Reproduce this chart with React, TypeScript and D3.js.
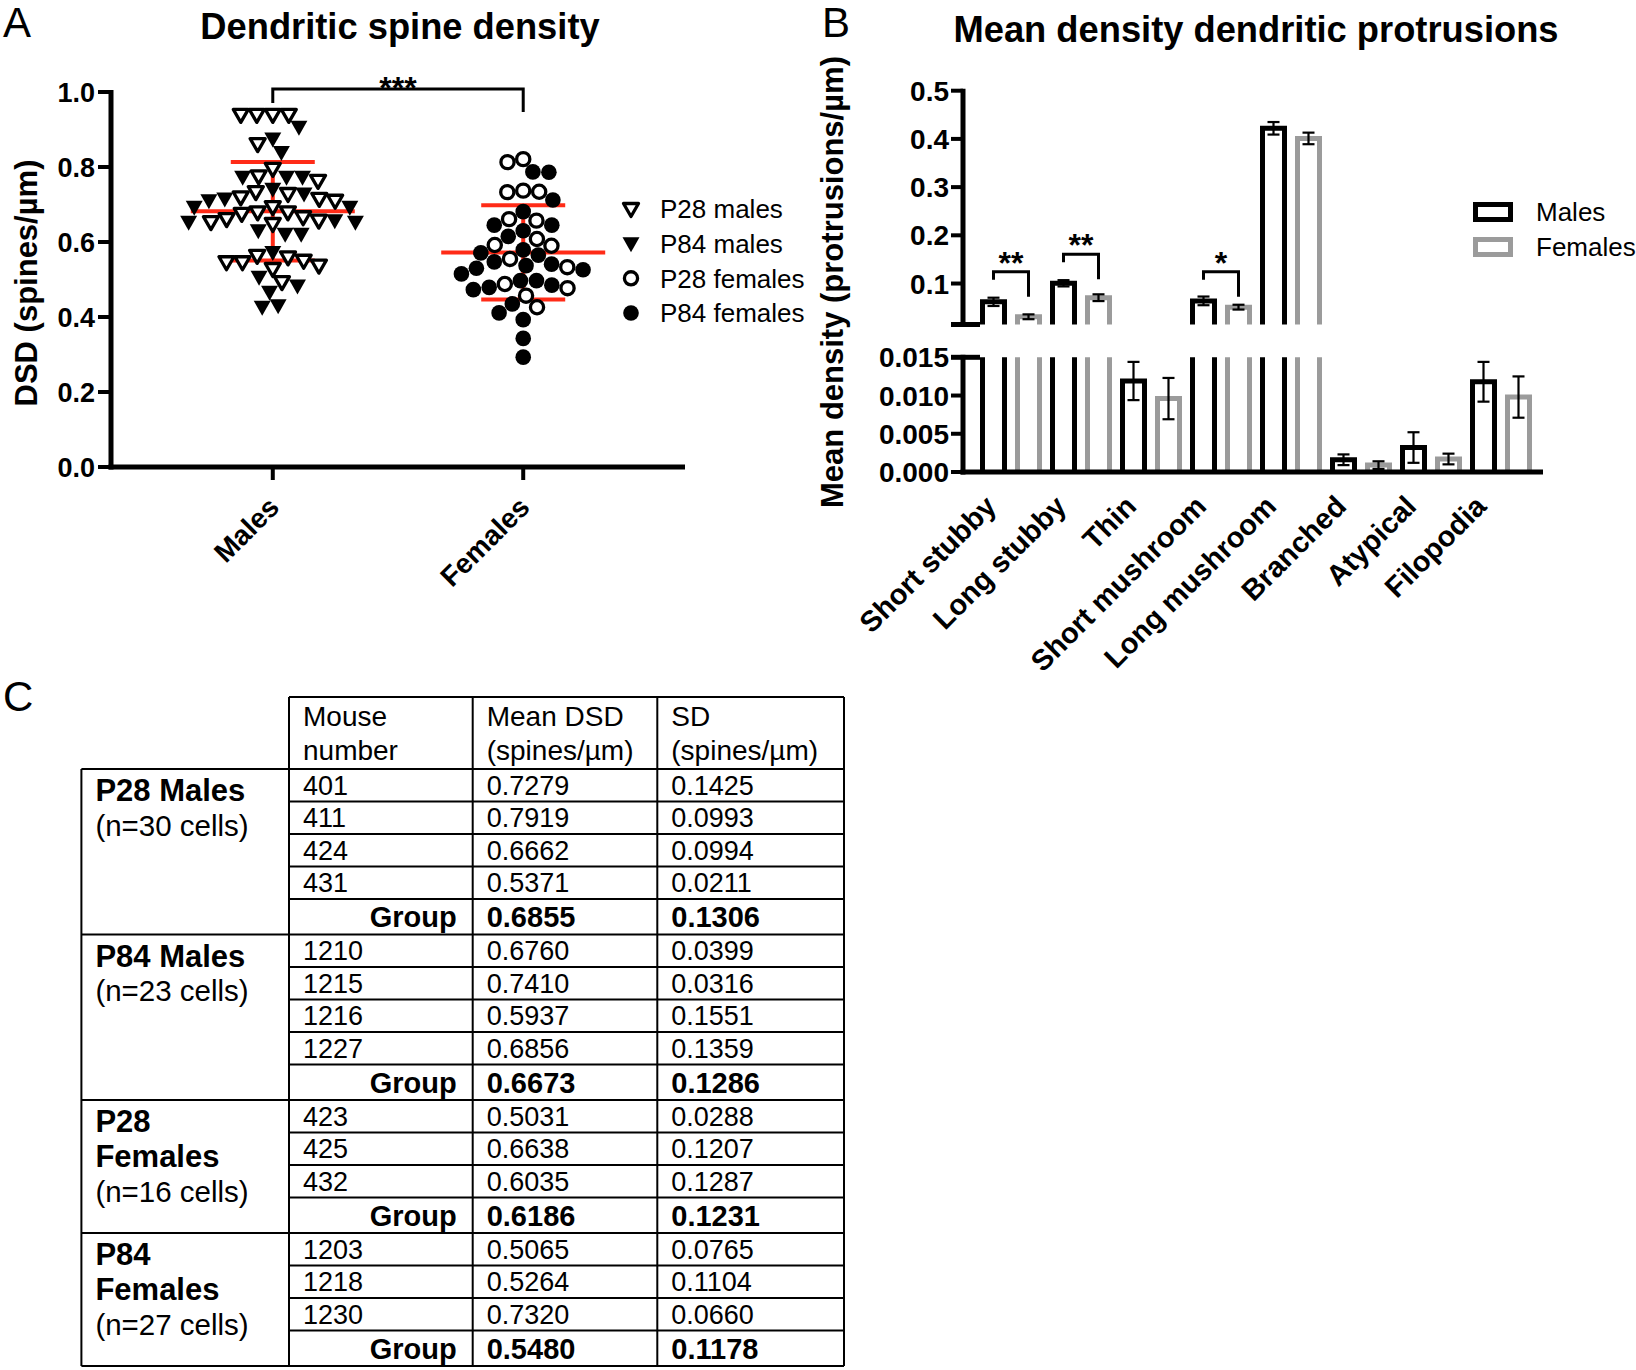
import React from 'react';
import * as d3 from 'd3';

// ---- Panel A: dendritic spine density per cell (spines/µm) ----
const groupsA = ['Males', 'Females'];
const p28Males = [0.939, 0.939, 0.939, 0.939, 0.861, 0.795, 0.763, 0.775, 0.733, 0.71, 0.715, 0.719, 0.728, 0.693, 0.679, 0.666, 0.648, 0.653, 0.657, 0.661, 0.675, 0.679, 0.546, 0.537, 0.559, 0.563, 0.528, 0.546, 0.55, 0.493];
const p84Males = [0.906, 0.875, 0.839, 0.773, 0.773, 0.773, 0.728, 0.715, 0.71, 0.741, 0.693, 0.693, 0.657, 0.653, 0.653, 0.63, 0.621, 0.621, 0.572, 0.506, 0.483, 0.466, 0.426, 0.43];
const p28Females = [0.821, 0.813, 0.737, 0.733, 0.734, 0.661, 0.657, 0.608, 0.59, 0.592, 0.555, 0.533, 0.477, 0.488, 0.457, 0.426];
const p84Females = [0.787, 0.786, 0.712, 0.681, 0.645, 0.63, 0.645, 0.615, 0.565, 0.579, 0.571, 0.547, 0.537, 0.53, 0.526, 0.541, 0.515, 0.497, 0.485, 0.479, 0.473, 0.497, 0.435, 0.411, 0.393, 0.343, 0.293];
const legendA = ['P28 males', 'P84 males', 'P28 females', 'P84 females'];
const ticksA = [0, 0.2, 0.4, 0.6, 0.8, 1.0];

// ---- Panel B: mean density of protrusion types (protrusions/µm), mean ± SEM ----
const categoriesB = ['Short stubby', 'Long stubby', 'Thin', 'Short mushroom', 'Long mushroom', 'Branched', 'Atypical', 'Filopodia'];
const seriesB = ['Males', 'Females'];
const malesMean = [0.062, 0.1005, 0.0119, 0.064, 0.422, 0.0016, 0.0032, 0.0118];
const malesErr = [0.0086, 0.0065, 0.0025, 0.009, 0.013, 0.0007, 0.002, 0.0026];
const femalesMean = [0.031, 0.0706, 0.0096, 0.051, 0.401, 0.0009, 0.0017, 0.0098];
const femalesErr = [0.005, 0.007, 0.0027, 0.005, 0.012, 0.0005, 0.0007, 0.0027];
const upperTicks = [0.1, 0.2, 0.3, 0.4, 0.5];
const lowerTicks = [0, 0.005, 0.01, 0.015];
const breakValue = 0.015;
const sigCats = ['Short stubby', 'Long stubby', 'Short mushroom'];
const sigLevel = [0.1245, 0.1606, 0.1245];
const sigText = ['**', '**', '*'];

// ---- Panel C: table ----
const tableHeader = [['Mouse', 'number'], ['Mean DSD', '(spines/µm)'], ['SD', '(spines/µm)']];
const groupTitles = [['P28 Males'], ['P84 Males'], ['P28', 'Females'], ['P84', 'Females']];
const groupCells = ['(n=30 cells)', '(n=23 cells)', '(n=16 cells)', '(n=27 cells)'];
const mouseNumbers = [['401', '411', '424', '431'], ['1210', '1215', '1216', '1227'], ['423', '425', '432'], ['1203', '1218', '1230']];
const mouseMeans = [['0.7279', '0.7919', '0.6662', '0.5371'], ['0.6760', '0.7410', '0.5937', '0.6856'], ['0.5031', '0.6638', '0.6035'], ['0.5065', '0.5264', '0.7320']];
const mouseSDs = [['0.1425', '0.0993', '0.0994', '0.0211'], ['0.0399', '0.0316', '0.1551', '0.1359'], ['0.0288', '0.1207', '0.1287'], ['0.0765', '0.1104', '0.0660']];
const groupMeans = ['0.6855', '0.6673', '0.6186', '0.5480'];
const groupSDs = ['0.1306', '0.1286', '0.1231', '0.1178'];

const FONT = '"Liberation Sans", Arial, Helvetica, sans-serif';
const RED = '#ff2b17';
const GREY = '#9b9b9b';
const AXIS_W = 5;

type Pt = { v: number; kind: string; x: number; y: number };

// simple beeswarm: place each point as close to the centre as possible without overlap
function swarm(items: { v: number; kind: string }[], y: (v: number) => number, cx: number, d: number): Pt[] {
  const pts = items.map(p => ({ ...p, x: cx, y: y(p.v) })).sort((a, b) => a.y - b.y);
  const placed: Pt[] = [];
  pts.forEach(p => {
    const bad: [number, number][] = [];
    placed.forEach(q => {
      const dy = Math.abs(q.y - p.y);
      if (dy < d) {
        const dx = Math.sqrt(d * d - dy * dy);
        bad.push([q.x - dx, q.x + dx]);
      }
    });
    const cands = [cx, ...bad.flat()].sort((a, b) => Math.abs(a - cx) - Math.abs(b - cx));
    const ok = cands.find(c => bad.every(([a, b]) => c <= a + 1e-6 || c >= b - 1e-6)) ?? cx;
    p.x = ok;
    placed.push(p);
  });
  return placed;
}

const Marker: React.FC<{ kind: string; x: number; y: number }> = ({ kind, x, y }) => {
  if (kind === 'p28m') return <path d="M-7.5,-5.5L7.5,-5.5L0,7.5Z" transform={`translate(${x},${y})`} fill="white" stroke="black" strokeWidth={3.3} strokeLinejoin="round" />;
  if (kind === 'p84m') return <path d="M-8.5,-6.5L8.5,-6.5L0,8.5Z" transform={`translate(${x},${y})`} fill="black" />;
  if (kind === 'p28f') return <circle cx={x} cy={y} r={6.6} fill="white" stroke="black" strokeWidth={3.3} />;
  return <circle cx={x} cy={y} r={7.8} fill="black" />;
};

const PanelA: React.FC = () => {
  const y = d3.scaleLinear().domain([0, 1]).range([467, 92]);
  const x = d3.scalePoint().domain(groupsA).range([111, 685]).padding(0.646);
  const x0 = 111;
  const groups = [
    [...p28Males.map(v => ({ v, kind: 'p28m' })), ...p84Males.map(v => ({ v, kind: 'p84m' }))],
    [...p28Females.map(v => ({ v, kind: 'p28f' })), ...p84Females.map(v => ({ v, kind: 'p84f' }))],
  ];
  const kinds = ['p28m', 'p84m', 'p28f', 'p84f'];
  const legendY = d3.scalePoint().domain(legendA).range([209, 313]);
  return (
    <g>
      <text x={3} y={37} fontSize={42} fontFamily={FONT}>A</text>
      <text x={400} y={39} fontSize={36.3} fontWeight="bold" fontFamily={FONT} textAnchor="middle">Dendritic spine density</text>
      <text transform="translate(37,283) rotate(-90)" fontSize={31} fontWeight="bold" fontFamily={FONT} textAnchor="middle">DSD (spines/µm)</text>
      {/* red mean ± SD, behind the points */}
      {groups.map((g, i) => {
        const cx = x(groupsA[i])!;
        const vals = g.map(p => p.v);
        const m = d3.mean(vals)!;
        const sd = d3.deviation(vals)!;
        return (
          <g key={i} stroke={RED} strokeWidth={4}>
            <line x1={cx} x2={cx} y1={y(m - sd)} y2={y(m + sd)} />
            <line x1={cx - 82} x2={cx + 82} y1={y(m)} y2={y(m)} />
            <line x1={cx - 42} x2={cx + 42} y1={y(m + sd)} y2={y(m + sd)} />
            <line x1={cx - 42} x2={cx + 42} y1={y(m - sd)} y2={y(m - sd)} />
          </g>
        );
      })}
      {groups.map((g, i) => swarm(g, y, x(groupsA[i])!, 16).map((p, j) => <Marker key={`${i}-${j}`} kind={p.kind} x={p.x} y={p.y} />))}
      {/* axes */}
      <line x1={x0} x2={x0} y1={y(1) - 2} y2={y(0) + AXIS_W / 2} stroke="black" strokeWidth={AXIS_W} />
      <line x1={x0 - AXIS_W / 2} x2={685} y1={y(0)} y2={y(0)} stroke="black" strokeWidth={AXIS_W} />
      {ticksA.map(t => (
        <g key={t}>
          <line x1={x0 - 13} x2={x0} y1={y(t)} y2={y(t)} stroke="black" strokeWidth={4} />
          <text x={x0 - 16} y={y(t)} dy="0.36em" fontSize={27} fontWeight="bold" fontFamily={FONT} textAnchor="end">{d3.format('.1f')(t)}</text>
        </g>
      ))}
      {groupsA.map(g => (
        <g key={g}>
          <line x1={x(g)} x2={x(g)} y1={y(0)} y2={y(0) + 13} stroke="black" strokeWidth={4} />
          <text transform={`translate(${x(g)! + 8},${y(0) + 42}) rotate(-45)`} fontSize={28} fontWeight="bold" fontFamily={FONT} textAnchor="end">{g}</text>
        </g>
      ))}
      {/* significance bracket */}
      <path d={`M${x('Males')},103V89H${x('Females')}V112`} fill="none" stroke="black" strokeWidth={3} />
      <text x={(x('Males')! + x('Females')!) / 2} y={99} fontSize={32} fontWeight="bold" fontFamily={FONT} textAnchor="middle">***</text>
      {/* legend */}
      {legendA.map((l, i) => (
        <g key={l}>
          <Marker kind={kinds[i]} x={631} y={legendY(l)!} />
          <text x={660} y={legendY(l)!} dy="0.36em" fontSize={26} fontFamily={FONT}>{l}</text>
        </g>
      ))}
    </g>
  );
};

const PanelB: React.FC = () => {
  const yUp = d3.scaleLinear().domain([breakValue, 0.5]).range([324.5, 90.7]);
  const yLo = d3.scaleLinear().domain([0, breakValue]).range([472, 357.3]);
  const x0 = d3.scaleBand().domain(categoriesB).range([976, 1536]).paddingInner(0).paddingOuter(0);
  const x1 = d3.scaleBand().domain(seriesB).range([0, x0.bandwidth()]).paddingInner(0.2286).paddingOuter(0.1143);
  const ax = 963;
  const sw = 5;
  const bw = x1.bandwidth();
  const firstBarLeft = x0(categoriesB[0])! + x1('Males')!;
  const means = [malesMean, femalesMean];
  const errs = [malesErr, femalesErr];
  const colors = ['black', GREY];
  const legendY = d3.scalePoint().domain(seriesB).range([212, 247]);
  return (
    <g>
      <text x={822} y={37} fontSize={42} fontFamily={FONT}>B</text>
      <text x={1256} y={42} fontSize={36.3} fontWeight="bold" fontFamily={FONT} textAnchor="middle">Mean density dendritic protrusions</text>
      <text transform="translate(843,282) rotate(-90)" fontSize={31} fontWeight="bold" fontFamily={FONT} textAnchor="middle">Mean density (protrusions/µm)</text>
      {/* bars */}
      {categoriesB.map((c, ci) => seriesB.map((s, si) => {
        const v = means[si][ci];
        const e = errs[si][ci];
        const l = x0(c)! + x1(s)! + sw / 2;
        const r = x0(c)! + x1(s)! + bw - sw / 2;
        const cx = (l + r) / 2;
        const col = colors[si];
        const ys = v > breakValue ? yUp : yLo;
        return (
          <g key={`${c}-${s}`}>
            {v > breakValue ? (
              <>
                <path d={`M${l},${yUp(breakValue)}V${yUp(v)}H${r}V${yUp(breakValue)}`} fill="none" stroke={col} strokeWidth={sw} />
                <path d={`M${l},${yLo(0)}V${yLo(breakValue)}M${r},${yLo(0)}V${yLo(breakValue)}`} fill="none" stroke={col} strokeWidth={sw} />
              </>
            ) : (
              <path d={`M${l},${yLo(0)}V${yLo(v)}H${r}V${yLo(0)}`} fill="none" stroke={col} strokeWidth={sw} />
            )}
            <g stroke="black" strokeWidth={2.2}>
              <line x1={cx} x2={cx} y1={ys(v - e)} y2={ys(v + e)} />
              <line x1={cx - 6} x2={cx + 6} y1={ys(v + e)} y2={ys(v + e)} />
              <line x1={cx - 6} x2={cx + 6} y1={ys(v - e)} y2={ys(v - e)} />
            </g>
          </g>
        );
      }))}
      {/* axes with break */}
      <line x1={ax} x2={ax} y1={yUp(0.5) - 2} y2={yUp(breakValue) + sw / 2} stroke="black" strokeWidth={AXIS_W} />
      <line x1={ax} x2={ax} y1={yLo(breakValue) - sw / 2} y2={yLo(0) + sw / 2} stroke="black" strokeWidth={AXIS_W} />
      <line x1={ax - sw / 2} x2={1543} y1={yLo(0)} y2={yLo(0)} stroke="black" strokeWidth={AXIS_W} />
      <line x1={ax - 12} x2={firstBarLeft} y1={yUp(breakValue)} y2={yUp(breakValue)} stroke="black" strokeWidth={AXIS_W} />
      {upperTicks.map(t => (
        <g key={t}>
          <line x1={ax - 12} x2={ax} y1={yUp(t)} y2={yUp(t)} stroke="black" strokeWidth={4} />
          <text x={ax - 14} y={yUp(t)} dy="0.36em" fontSize={28} fontWeight="bold" fontFamily={FONT} textAnchor="end">{d3.format('.1f')(t)}</text>
        </g>
      ))}
      {lowerTicks.map(t => (
        <g key={t}>
          <line x1={ax - 12} x2={t === breakValue ? firstBarLeft : ax} y1={yLo(t)} y2={yLo(t)} stroke="black" strokeWidth={t === breakValue ? AXIS_W : 4} />
          <text x={ax - 14} y={yLo(t)} dy="0.36em" fontSize={28} fontWeight="bold" fontFamily={FONT} textAnchor="end">{d3.format('.3f')(t)}</text>
        </g>
      ))}
      {categoriesB.map(c => (
        <text key={c} transform={`translate(${x0(c)! + x0.bandwidth() / 2 - 13},${yLo(0) + 36}) rotate(-45)`} fontSize={29} fontWeight="bold" fontFamily={FONT} textAnchor="end">{c}</text>
      ))}
      {/* significance brackets */}
      {sigCats.map((c, i) => {
        const lx = x0(c)! + x1('Males')! + bw / 2;
        const rx = x0(c)! + x1('Females')! + bw / 2;
        const by = yUp(sigLevel[i]);
        return (
          <g key={c}>
            <path d={`M${lx},${by + 8}V${by}H${rx}V${by + 25}`} fill="none" stroke="black" strokeWidth={3} />
            <text x={(lx + rx) / 2} y={by + 2} fontSize={32} fontWeight="bold" fontFamily={FONT} textAnchor="middle">{sigText[i]}</text>
          </g>
        );
      })}
      {/* legend */}
      {seriesB.map((s, i) => (
        <g key={s}>
          <rect x={1475.5} y={legendY(s)! - 7.5} width={35} height={15} fill="white" stroke={colors[i]} strokeWidth={5} />
          <text x={1536} y={legendY(s)!} dy="0.36em" fontSize={26} fontFamily={FONT}>{s}</text>
        </g>
      ))}
    </g>
  );
};

const PanelC: React.FC = () => {
  const colX = [81.4, 289, 472.7, 657.3, 844];
  const top = 697;
  const headH = 72;
  const rowH = 32.5;
  const groupH = 35.5;
  const fs = 27;
  const fb = 29;
  const lines: JSX.Element[] = [];
  const texts: JSX.Element[] = [];
  let yy = top + headH;
  groupTitles.forEach((title, gi) => {
    const gTop = yy;
    const titleLines = [...title, groupCells[gi]];
    titleLines.forEach((t, li) => (
      texts.push(
        <text key={`gt${gi}-${li}`} x={colX[0] + 14} y={gTop + 21 + li * 35} dy="0.36em" fontSize={li < title.length ? 31 : 29.5} fontWeight={li < title.length ? 'bold' : 'normal'} fontFamily={FONT}>{t}</text>
      )
    ));
    mouseNumbers[gi].forEach((m, ri) => {
      const cy = yy + rowH / 2;
      [m, mouseMeans[gi][ri], mouseSDs[gi][ri]].forEach((t, ci) => texts.push(
        <text key={`c${gi}-${ri}-${ci}`} x={colX[ci + 1] + 14} y={cy} dy="0.36em" fontSize={fs} fontFamily={FONT}>{t}</text>
      ));
      yy += rowH;
      lines.push(<line key={`r${gi}-${ri}`} x1={colX[1]} x2={colX[4]} y1={yy} y2={yy} />);
    });
    const cy = yy + groupH / 2;
    texts.push(<text key={`g${gi}`} x={colX[2] - 16} y={cy} dy="0.36em" fontSize={fb} fontWeight="bold" fontFamily={FONT} textAnchor="end">Group</text>);
    texts.push(<text key={`gm${gi}`} x={colX[2] + 14} y={cy} dy="0.36em" fontSize={fb} fontWeight="bold" fontFamily={FONT}>{groupMeans[gi]}</text>);
    texts.push(<text key={`gs${gi}`} x={colX[3] + 14} y={cy} dy="0.36em" fontSize={fb} fontWeight="bold" fontFamily={FONT}>{groupSDs[gi]}</text>);
    yy += groupH;
    lines.push(<line key={`gb${gi}`} x1={colX[0]} x2={colX[4]} y1={yy} y2={yy} />);
  });
  const bottom = yy;
  return (
    <g>
      <text x={3} y={711} fontSize={42} fontFamily={FONT}>C</text>
      {tableHeader.map((h, i) => h.map((t, li) => (
        <text key={`h${i}-${li}`} x={colX[i + 1] + 14} y={top + 19 + li * 34} dy="0.36em" fontSize={28} fontFamily={FONT}>{t}</text>
      )))}
      {texts}
      <g stroke="black" strokeWidth={2}>
        <line x1={colX[1]} x2={colX[4]} y1={top} y2={top} />
        <line x1={colX[0]} x2={colX[4]} y1={top + headH} y2={top + headH} />
        <line x1={colX[0]} x2={colX[0]} y1={top + headH} y2={bottom} />
        {colX.slice(1).map(cx => <line key={cx} x1={cx} x2={cx} y1={top} y2={bottom} />)}
        {lines}
      </g>
    </g>
  );
};

export default function App() {
  return (
    <svg width={1636} height={1370} viewBox="0 0 1636 1370" style={{ position: 'absolute', left: 0, top: 0, background: 'white' }}>
      <rect width={1636} height={1370} fill="white" />
      <PanelA />
      <PanelB />
      <PanelC />
    </svg>
  );
}
